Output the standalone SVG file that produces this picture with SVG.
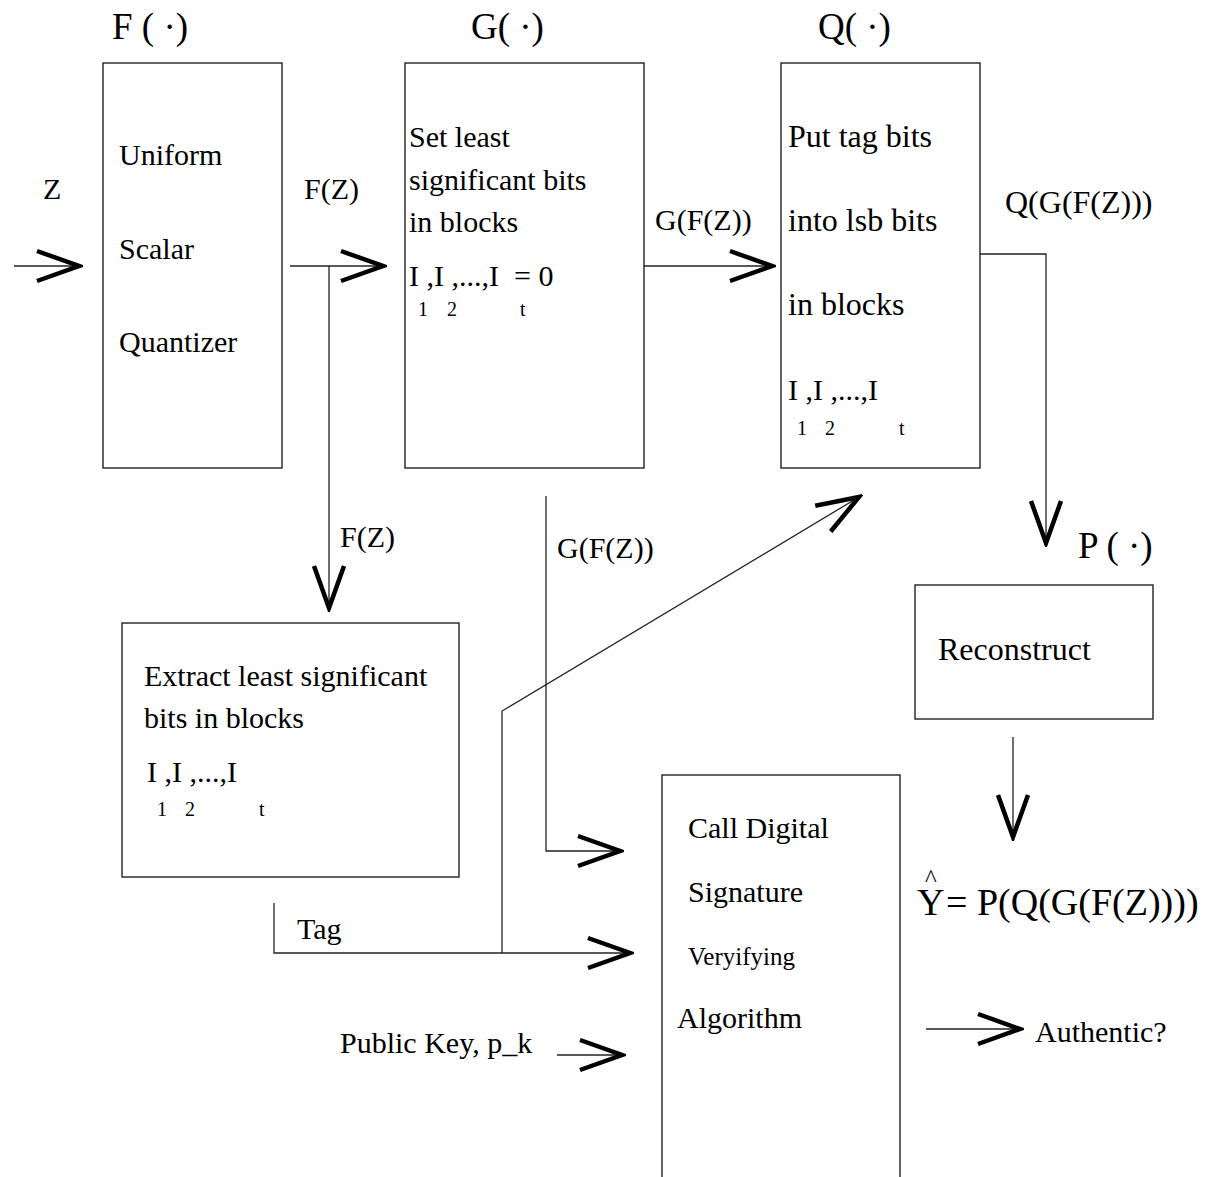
<svg xmlns="http://www.w3.org/2000/svg" width="1212" height="1177" viewBox="0 0 1212 1177">
  <style>
    text { font-family: "Liberation Serif", "Times New Roman", serif; fill: #000; }
    .box { fill: none; stroke: #222; stroke-width: 1.4; }
    .wire { fill: none; stroke: #222; stroke-width: 1.3; marker-end: url(#chev); }
    .ttl { font-size: 37px; }
    .t30 { font-size: 30px; }
    .t32 { font-size: 32px; }
    .sub { font-size: 20px; }
  </style>
  <defs>
    <marker id="chev" markerUnits="userSpaceOnUse" viewBox="-48 -20 52 40" markerWidth="52" markerHeight="40" refX="0" refY="0" orient="auto">
      <path d="M-42,-15 L0,0 L-42,15" fill="none" stroke="#000" stroke-width="4.5" stroke-linejoin="miter"/>
    </marker>
  </defs>

  <!-- connectors -->
  <g id="connectors">
    <path class="wire" d="M14,266 H79"/>
    <text class="t30" x="43" y="199">Z</text>
    <path class="wire" d="M290,266 H383"/>
    <text class="t30" x="304" y="199">F(Z)</text>
    <path class="wire" d="M329,266 V608"/>
    <text class="t30" x="340" y="547">F(Z)</text>
    <path class="wire" d="M644,266 H772"/>
    <text class="t30" x="655" y="230">G(F(Z))</text>
    <path class="wire" d="M980,254 H1046 V543"/>
    <text class="t32" x="1005" y="213">Q(G(F(Z)))</text>
    <path class="wire" d="M546,496 V851 H620"/>
    <text class="t30" x="557" y="558">G(F(Z))</text>
    <path class="wire" d="M274,903 V953 H630"/>
    <text class="t30" x="297" y="939">Tag</text>
    <path class="wire" d="M502,953 V711 L859,497"/>
    <path class="wire" d="M557,1055 H622"/>
    <text class="t30" x="340" y="1053">Public Key, p_k</text>
    <path class="wire" d="M1013,737 V837"/>
    <path class="wire" d="M926,1029 H1020"/>
    <text class="t30" x="1035" y="1042">Authentic?</text>
  </g>

  <!-- F: uniform scalar quantizer -->
  <g id="node-F">
    <text class="ttl" x="112" y="39">F ( ·)</text>
    <rect class="box" x="103" y="63" width="179" height="405"/>
    <text class="t30" x="119" y="165">Uniform</text>
    <text class="t30" x="119" y="259">Scalar</text>
    <text class="t30" x="119" y="352">Quantizer</text>
  </g>

  <!-- G: clear lsb bits -->
  <g id="node-G">
    <text class="ttl" x="471" y="39">G( ·)</text>
    <rect class="box" x="405" y="63" width="239" height="405"/>
    <text class="t30" x="409" y="147">Set least</text>
    <text class="t30" x="409" y="190">significant bits</text>
    <text class="t30" x="409" y="232">in blocks</text>
    <text class="t30" x="409" y="286">I ,I ,...,I</text>
    <text class="t30" x="514" y="286">= 0</text>
    <text class="sub" y="316"><tspan x="418">1</tspan><tspan x="447">2</tspan><tspan x="520">t</tspan></text>
  </g>

  <!-- Q: embed tag bits -->
  <g id="node-Q">
    <text class="ttl" x="818" y="39">Q( ·)</text>
    <rect class="box" x="781" y="63" width="199" height="405"/>
    <text class="t32" x="788" y="147">Put tag bits</text>
    <text class="t32" x="788" y="231">into lsb bits</text>
    <text class="t32" x="788" y="315">in blocks</text>
    <text class="t30" x="788" y="400">I ,I ,...,I</text>
    <text class="sub" y="435"><tspan x="797">1</tspan><tspan x="825">2</tspan><tspan x="899">t</tspan></text>
  </g>

  <!-- extract lsb bits -->
  <g id="node-extract">
    <rect class="box" x="122" y="623" width="337" height="254"/>
    <text class="t30" x="144" y="686">Extract least significant</text>
    <text class="t30" x="144" y="728">bits in blocks</text>
    <text class="t30" x="147" y="782">I ,I ,...,I</text>
    <text class="sub" y="816"><tspan x="157">1</tspan><tspan x="185">2</tspan><tspan x="259">t</tspan></text>
  </g>

  <!-- P: reconstruct -->
  <g id="node-P">
    <text class="ttl" x="1078" y="558">P ( ·)</text>
    <rect class="box" x="915" y="585" width="238" height="134"/>
    <text class="t32" x="938" y="660">Reconstruct</text>
  </g>

  <!-- signature verification -->
  <g id="node-verify">
    <rect class="box" x="662" y="775" width="238" height="420"/>
    <text class="t30" x="688" y="838">Call Digital</text>
    <text class="t30" x="688" y="902">Signature</text>
    <text x="688" y="965" style="font-size:25px">Veryifying</text>
    <text class="t30" x="677" y="1028">Algorithm</text>
  </g>

  <!-- output estimate -->
  <g id="node-output">
    <text x="925" y="887" style="font-size:25px">^</text>
    <text y="915" style="font-size:38px"><tspan x="917">Y</tspan><tspan x="946">= P(Q(G(F(Z))))</tspan></text>
  </g>
</svg>
